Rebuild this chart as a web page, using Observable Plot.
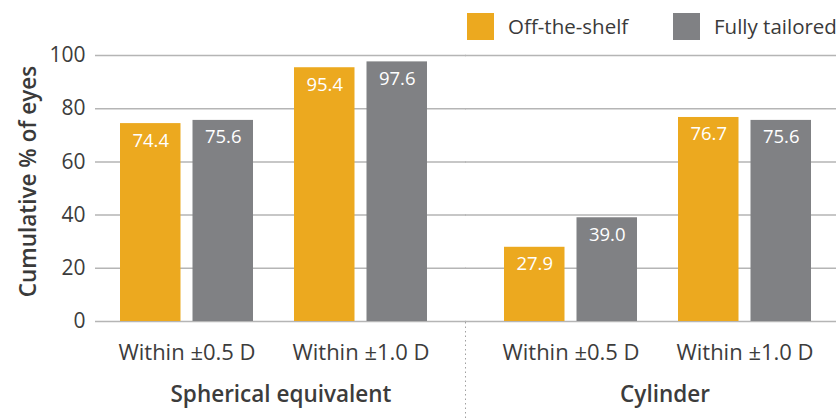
<!DOCTYPE html>
<html>
<head>
<meta charset="utf-8">
<script src="https://cdn.jsdelivr.net/npm/d3@7"></script>
<script src="https://cdn.jsdelivr.net/npm/@observablehq/plot@0.6"></script>
<style>
  body { margin: 0; background: #fff; font-family: "Open Sans", sans-serif; }
  #wrap { width: 837px; height: 418px; position: relative; overflow: hidden; }
  #legend { position: absolute; top: 13px; left: 0; width: 837px; height: 27px;
            font-size: 20.5px; color: #3a3a3a; z-index: 2; }
  .sw { position: absolute; top: 0; width: 27px; height: 27px; }
  .lt { position: absolute; top: 0; height: 27px; line-height: 27px; white-space: nowrap; }
  svg { display: block; }
</style>
</head>
<body>
<div id="wrap">
  <div id="legend"></div>
  <div id="chart"></div>
</div>
<script>
const groupNames = ["Spherical equivalent", "Cylinder"];
const thresholdNames = ["Within ±0.5 D", "Within ±1.0 D"];
const rowGroups = ["Spherical equivalent", "Spherical equivalent", "Cylinder", "Cylinder"];
const rowThresholds = ["Within ±0.5 D", "Within ±1.0 D", "Within ±0.5 D", "Within ±1.0 D"];
const offTheShelf = [74.4, 95.4, 27.9, 76.7];
const fullyTailored = [75.6, 97.6, 39.0, 75.6];
const seriesNames = ["Off-the-shelf", "Fully tailored"];
const seriesColors = ["#ECA91F", "#808184"];
const yTicks = [0, 20, 40, 60, 80, 100];
const yLabel = "Cumulative % of eyes";

const rows = rowGroups.map((g, i) => ({
  group: g, threshold: rowThresholds[i], ots: offTheShelf[i], ft: fullyTailored[i]
}));

// legend (swatch left edges in page pixels)
const legendLeft = [467, 673];
const legend = document.getElementById("legend");
seriesNames.forEach((s, i) => {
  const sw = document.createElement("span");
  sw.className = "sw";
  sw.style.left = legendLeft[i] + "px";
  sw.style.background = seriesColors[i];
  const t = document.createElement("span");
  t.className = "lt";
  t.style.left = (legendLeft[i] + 41) + "px";
  t.textContent = s;
  legend.appendChild(sw);
  legend.appendChild(t);
});

const font = "Open Sans";
const gridStyle = { stroke: "#b5b5b5", strokeWidth: 1.5 };
const plot = Plot.plot({
  width: 837,
  height: 418,
  marginLeft: 94,
  marginRight: 0,
  marginTop: 55,
  marginBottom: 97,
  style: { fontFamily: font, fontSize: "21px", color: "#3c3c3c", background: "white" },
  fx: { domain: groupNames, paddingInner: 0.0701, paddingOuter: 0 },
  x: { domain: thresholdNames, paddingInner: 0.235, paddingOuter: 0.143 },
  y: { domain: [0, 100] },
  marks: [
    Plot.ruleY(yTicks, { fx: () => groupNames[0], y: d => d, insetRight: -14, ...gridStyle }),
    Plot.ruleY(yTicks, { fx: () => groupNames[1], y: d => d, insetLeft: -14, ...gridStyle }),
    Plot.barY(rows, { fx: "group", x: "threshold", y: "ots", fill: seriesColors[0], insetRight: 72.5 }),
    Plot.barY(rows, { fx: "group", x: "threshold", y: "ft", fill: seriesColors[1], insetLeft: 72.5 }),
    Plot.text(rows, { fx: "group", x: "threshold", y: "ots", text: d => d.ots.toFixed(1),
      dx: -36.25, dy: 17, fill: "white", fontSize: 18.5 }),
    Plot.text(rows, { fx: "group", x: "threshold", y: "ft", text: d => d.ft.toFixed(1),
      dx: 36.25, dy: 17, fill: "white", fontSize: 18.5 }),
    Plot.axisY({ ticks: yTicks, tickSize: 0, tickPadding: 10, label: null, fontSize: 21 }),
    Plot.axisX({ tickSize: 0, tickPadding: 23, label: null, fontSize: 22 }),
    Plot.axisFx({ anchor: "bottom", tickSize: 0, tickPadding: 65, label: null, fontSize: 22.5, fontWeight: 600, dx: 7 }),
    Plot.text([yLabel], { facet: "super", frameAnchor: "left", textAnchor: "middle", rotate: -90, dx: -67, dy: -7,
      fontWeight: 600, fontSize: 22.5, fill: "#3a3a3a" })
  ]
});

// dotted separator between the two facet groups
const fxS = plot.scale("fx");
const yS = plot.scale("y");
const sepX = fxS.apply("Cylinder") - (fxS.step - fxS.bandwidth) / 2;
d3.select(plot).append("line")
  .attr("x1", sepX).attr("x2", sepX)
  .attr("y1", yS.apply(0) + 1).attr("y2", 418)
  .attr("stroke", "#a0a0a0").attr("stroke-width", 1).attr("stroke-dasharray", "1.5,3");

document.getElementById("chart").appendChild(plot);
</script>
</body>
</html>
